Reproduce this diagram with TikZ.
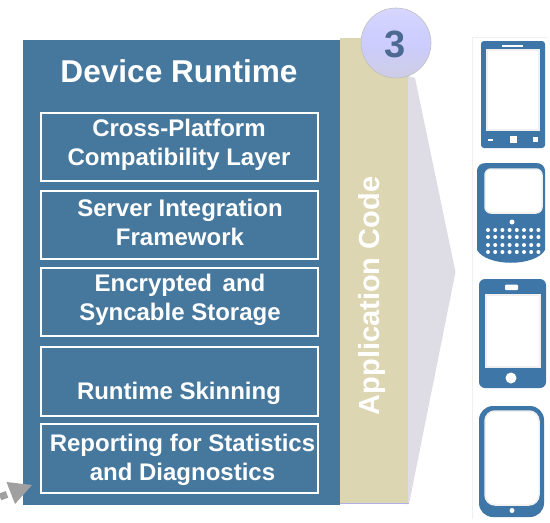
\documentclass[tikz,border=0pt]{standalone}
\usepackage{fontspec}
\setmainfont{Liberation Sans}
\usetikzlibrary{arrows.meta,shadings}
\definecolor{rtblue}{RGB}{70,120,157}
\definecolor{phblue}{RGB}{62,118,168}
\definecolor{tanbar}{RGB}{221,214,178}
\definecolor{wedge}{RGB}{222,220,228}
\definecolor{arrowgray}{RGB}{160,160,160}
\definecolor{numblue}{RGB}{75,105,145}
\tikzset{
 x=1pt,y=-1pt,
 layerbox/.style={draw=white,line width=2pt,fill=none,minimum width=277pt,anchor=north west,inner sep=0pt},
 layertext/.style={inner sep=0pt,align=center,text=white,font=\fontsize{24}{29}\selectfont\bfseries},
 phone/.style={fill=phblue,draw=none},
 screen/.style={fill=white,draw=white!88!gray,line width=1.5pt},
 hole/.style={fill=white,draw=none},
}
\begin{document}
\begin{tikzpicture}
\useasboundingbox (0,0) rectangle (550,523);
\fill[white] (0,0) rectangle (550,523);
% wedge
\fill[wedge] (405,75) -- (415,78) -- (455.5,272) -- (409,504) -- (405,504) -- cycle;
% tan bar
\node[fill=tanbar,minimum width=68pt,minimum height=465pt,inner sep=0pt,anchor=north west] (app) at (340,38) {};
\fill[wedge!80!blue] (340,503) rectangle (409,504);
\node[rotate=90,text=white,font=\fontsize{29}{31}\selectfont\bfseries] (applabel) at (372,296) {Application Code};
% blue panel
\node[fill=rtblue,minimum width=317pt,minimum height=465pt,inner sep=0pt,anchor=north west] (panel) at (23,40) {};
\node[text=white,font=\fontsize{31.6}{34}\selectfont\bfseries] (title) at (179,71) {Device Runtime};
\node[layerbox,minimum height=68pt] (b1) at (40,112) {};
\node[layerbox,minimum height=68pt] (b2) at (40,190) {};
\node[layerbox,minimum height=68pt] (b3) at (40,267) {};
\node[layerbox,minimum height=69pt] (b4) at (40,346) {};
\node[layerbox,minimum height=69pt] (b5) at (40,423) {};
\node[layertext] (t1) at (179,145) {Cross-Platform\\Compatibility Layer};
\node[layertext] (t2) at (180,222) {Server Integration\\Framework};
\node[layertext] (t3) at (180,300) {Encrypted\, and\\Syncable Storage};
\node[layertext] (t4) at (179,393) {Runtime Skinning};
\node[layertext] (t5) at (182.5,460) {Reporting for Statistics\\and Diagnostics};
% badge
\node[circle,minimum size=70pt,inner sep=0pt,draw=black!25,line width=.6pt,top color=blue!16!white,bottom color=blue!30!gray!30!white,middle color=blue!20!white] (badge) at (396,43) {};
\node[text=numblue,font=\fontsize{38}{40}\selectfont\bfseries] (three) at (395,44) {3};
% phone column
\draw[black!6,line width=.5pt] (472,37) -- (547,37) (472,37) -- (472,519);
% phone 1
\fill[phone,rounded corners=3pt] (481,41) rectangle (545,148);
\fill[screen] (487,50) rectangle (539,130);
\fill[hole] (502,44.5) rectangle (523,46.5);
\fill[hole] (488,139) rectangle (493,141);
\fill[hole] (510,136) rectangle (517,143);
\fill[hole] (533,137) rectangle (538,142);
% phone 2
\fill[phone] (477,172) .. controls (477,165) and (481,163) .. (487,163) -- (535,163) .. controls (541,163) and (545,165) .. (545,172) -- (545,250) .. controls (535,267) and (487,267) .. (477,250) -- cycle;
\fill[screen,rounded corners=6pt] (485,169) rectangle (542,213);
\fill[hole] (512,222) circle (2.5);
\foreach \r/\y in {1/230,2/237,3/245,4/252}
  \foreach \c in {0,...,7}
    \fill[hole] ({488+\c*7.2},\y) circle (2);
% phone 3
\fill[phone,rounded corners=6pt] (479,279) rectangle (546,388);
\fill[screen] (486,295) rectangle (540,367);
\fill[hole,rounded corners=1pt] (505,284.5) rectangle (518,290);
\fill[hole] (511,378) circle (5.5);
% phone 4
\fill[phone,rounded corners=14pt] (479,406) rectangle (544,517);
\fill[screen,rounded corners=10pt] (485,411) rectangle (539,505);
\fill[hole] (512,510.5) circle (2.5);
% arrow
\coordinate (arrowstart) at (0,497);
\coordinate (stubend) at (7,494.3);
\coordinate (arrowtip) at (32,485);
\coordinate (headtop) at (6.5,482);
\coordinate (headbot) at (15,504);
\draw[line width=7pt,draw=arrowgray] (arrowstart) -- (stubend);
\fill[arrowgray] (headtop) -- (arrowtip) -- (headbot) -- cycle;
\end{tikzpicture}
\end{document}
